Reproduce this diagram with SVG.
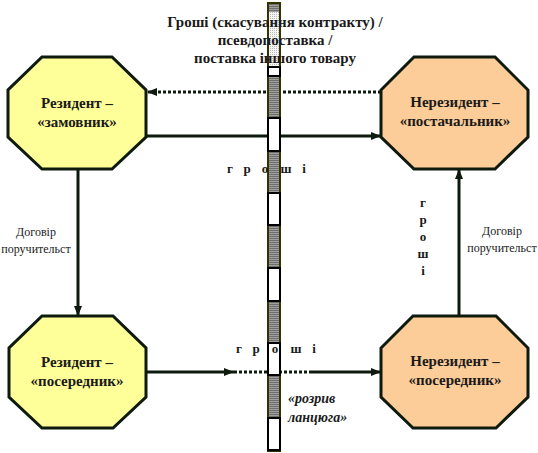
<svg xmlns="http://www.w3.org/2000/svg" width="538" height="453" viewBox="0 0 538 453">
<defs>
<pattern id="stripe" width="4" height="2" patternUnits="userSpaceOnUse"><rect width="4" height="2" fill="#a0a0a0"/><rect width="4" height="1" fill="#6e6e6e"/></pattern>
<pattern id="stipple" width="2" height="2" patternUnits="userSpaceOnUse"><rect width="2" height="2" fill="#f4f4f4"/><rect width="1" height="1" fill="#b8b8b8"/></pattern>
<marker id="ah" markerWidth="10" markerHeight="8" refX="10" refY="4" orient="auto" markerUnits="userSpaceOnUse"><path d="M0,0 L10,4 L0,8 Z" fill="#0d1a0d"/></marker>
</defs>
<style>
text{font-family:"Liberation Serif","Times New Roman",serif;fill:#1a1a1a}
.oct{stroke:#0d1a0d;stroke-width:3;stroke-linejoin:miter}
.res{fill:#ffff99}
.non{fill:#fccc99}
.lbl{font-weight:bold;font-size:15px;text-anchor:middle}
.ttl{font-weight:bold;font-size:15px;text-anchor:middle}
.g{font-weight:bold;font-size:13px;text-anchor:middle}
.dog{font-size:12px;text-anchor:middle}
.it{font-weight:bold;font-style:italic;font-size:14px}
.sl{stroke:#0d1a0d;stroke-width:3;fill:none}
.dl{stroke:#0d1a0d;stroke-width:3;fill:none;stroke-dasharray:3 2}
.wseg{fill:#fff;stroke:#000;stroke-width:2}
</style>
<g id="connectors">
<line class="dl" x1="381" y1="92" x2="147" y2="92" marker-end="url(#ah)"/>
<line class="sl" x1="146" y1="136" x2="381" y2="136" marker-end="url(#ah)"/>
<line class="sl" x1="78" y1="169" x2="78" y2="316" marker-end="url(#ah)"/>
<line class="sl" x1="459" y1="316" x2="459" y2="169" marker-end="url(#ah)"/>
<line class="sl" x1="146" y1="372" x2="234" y2="372" marker-end="url(#ah)"/>
<line class="dl" x1="234" y1="372" x2="311" y2="372"/>
<line class="sl" x1="311" y1="372" x2="381" y2="372" marker-end="url(#ah)"/>
</g>
<g id="bar">
<rect x="268" y="3" width="12" height="448" fill="url(#stripe)" stroke="#333300" stroke-width="2"/>
<rect x="269" y="12" width="10" height="55" fill="url(#stipple)"/>
<rect class="wseg" x="268" y="67" width="12" height="9"/>
<rect class="wseg" x="268" y="118" width="12" height="33"/>
<rect class="wseg" x="268" y="193" width="12" height="32"/>
<rect class="wseg" x="268" y="268" width="12" height="33"/>
<rect class="wseg" x="268" y="343" width="12" height="32"/>
<rect class="wseg" x="268" y="418" width="12" height="32"/>
</g>
<g id="title">
<text class="ttl" x="275" y="27">Гроші (скасування контракту) /</text>
<text class="ttl" x="275" y="45">псевдопоставка /</text>
<text class="ttl" x="275" y="63">поставка іншого товару</text>
</g>
<g id="resident-zamovnyk">
<polygon class="oct res" points="42,57 112,57 146,90 146,137 112,169 42,169 8,137 8,90"/>
<text class="lbl" x="77" y="108">Резидент –</text>
<text class="lbl" x="77" y="127">«замовник»</text>
</g>
<g id="nonresident-postachalnyk">
<polygon class="oct non" points="414,57 495,57 528,90 528,137 495,169 414,169 381,137 381,90"/>
<text class="lbl" x="455" y="107">Нерезидент –</text>
<text class="lbl" x="455" y="126">«постачальник»</text>
</g>
<g id="resident-poserednyk">
<polygon class="oct res" points="42,316 113,316 146,348 146,397 113,428 42,428 9,397 9,348"/>
<text class="lbl" x="77" y="367">Резидент –</text>
<text class="lbl" x="77" y="386">«посередник»</text>
</g>
<g id="nonresident-poserednyk">
<polygon class="oct non" points="413,316 496,316 528,348 528,397 496,428 413,428 381,397 381,348"/>
<text class="lbl" x="455" y="366">Нерезидент –</text>
<text class="lbl" x="455" y="385">«посередник»</text>
</g>
<g id="labels">
<text class="g" y="173"><tspan x="230">г</tspan><tspan x="247">р</tspan><tspan x="265">о</tspan><tspan x="286">ш</tspan><tspan x="304">і</tspan></text>
<text class="g" y="353"><tspan x="239">г</tspan><tspan x="256">р</tspan><tspan x="275">о</tspan><tspan x="296">ш</tspan><tspan x="314">і</tspan></text>
<text class="g" x="423"><tspan x="423" y="207">г</tspan><tspan x="423" y="224">р</tspan><tspan x="423" y="241">о</tspan><tspan x="423" y="258">ш</tspan><tspan x="423" y="275">і</tspan></text>
<text class="dog" x="36" y="236">Договір</text>
<text class="dog" x="36" y="253">поручительст</text>
<text class="dog" x="502" y="235">Договір</text>
<text class="dog" x="502" y="252">поручительст</text>
<text class="it" x="288" y="403">«розрив</text>
<text class="it" x="288" y="422">ланцюга»</text>
</g>
</svg>
